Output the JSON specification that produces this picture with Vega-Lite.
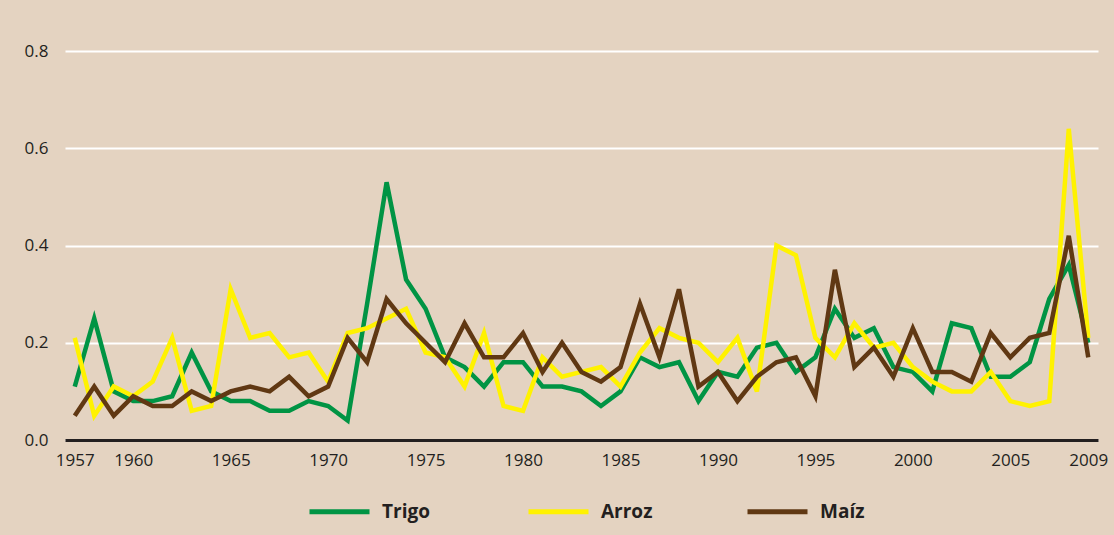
{
  "$schema": "https://vega.github.io/schema/vega-lite/v6.json",
  "width": 1033,
  "height": 389,
  "autosize": "none",
  "padding": {"left": 65, "top": 51, "right": 16, "bottom": 95},
  "background": "#e4d3c1",
  "config": {
    "view": {"stroke": null},
    "font": "Open Sans",
    "axis": {"labelColor": "#231f20", "labelFontSize": 17, "labelFont": "Open Sans", "ticks": false, "tickSize": 0, "title": null}
  },
  "data": {
    "values": [
      {"year":1957,"cultivo":"Trigo","valor":0.11},{"year":1958,"cultivo":"Trigo","valor":0.25},{"year":1959,"cultivo":"Trigo","valor":0.10},{"year":1960,"cultivo":"Trigo","valor":0.08},{"year":1961,"cultivo":"Trigo","valor":0.08},{"year":1962,"cultivo":"Trigo","valor":0.09},{"year":1963,"cultivo":"Trigo","valor":0.18},{"year":1964,"cultivo":"Trigo","valor":0.10},{"year":1965,"cultivo":"Trigo","valor":0.08},{"year":1966,"cultivo":"Trigo","valor":0.08},{"year":1967,"cultivo":"Trigo","valor":0.06},{"year":1968,"cultivo":"Trigo","valor":0.06},{"year":1969,"cultivo":"Trigo","valor":0.08},{"year":1970,"cultivo":"Trigo","valor":0.07},{"year":1971,"cultivo":"Trigo","valor":0.04},{"year":1972,"cultivo":"Trigo","valor":0.28},{"year":1973,"cultivo":"Trigo","valor":0.53},{"year":1974,"cultivo":"Trigo","valor":0.33},{"year":1975,"cultivo":"Trigo","valor":0.27},{"year":1976,"cultivo":"Trigo","valor":0.17},{"year":1977,"cultivo":"Trigo","valor":0.15},{"year":1978,"cultivo":"Trigo","valor":0.11},{"year":1979,"cultivo":"Trigo","valor":0.16},{"year":1980,"cultivo":"Trigo","valor":0.16},{"year":1981,"cultivo":"Trigo","valor":0.11},{"year":1982,"cultivo":"Trigo","valor":0.11},{"year":1983,"cultivo":"Trigo","valor":0.10},{"year":1984,"cultivo":"Trigo","valor":0.07},{"year":1985,"cultivo":"Trigo","valor":0.10},{"year":1986,"cultivo":"Trigo","valor":0.17},{"year":1987,"cultivo":"Trigo","valor":0.15},{"year":1988,"cultivo":"Trigo","valor":0.16},{"year":1989,"cultivo":"Trigo","valor":0.08},{"year":1990,"cultivo":"Trigo","valor":0.14},{"year":1991,"cultivo":"Trigo","valor":0.13},{"year":1992,"cultivo":"Trigo","valor":0.19},{"year":1993,"cultivo":"Trigo","valor":0.20},{"year":1994,"cultivo":"Trigo","valor":0.14},{"year":1995,"cultivo":"Trigo","valor":0.17},{"year":1996,"cultivo":"Trigo","valor":0.27},{"year":1997,"cultivo":"Trigo","valor":0.21},{"year":1998,"cultivo":"Trigo","valor":0.23},{"year":1999,"cultivo":"Trigo","valor":0.15},{"year":2000,"cultivo":"Trigo","valor":0.14},{"year":2001,"cultivo":"Trigo","valor":0.10},{"year":2002,"cultivo":"Trigo","valor":0.24},{"year":2003,"cultivo":"Trigo","valor":0.23},{"year":2004,"cultivo":"Trigo","valor":0.13},{"year":2005,"cultivo":"Trigo","valor":0.13},{"year":2006,"cultivo":"Trigo","valor":0.16},{"year":2007,"cultivo":"Trigo","valor":0.29},{"year":2008,"cultivo":"Trigo","valor":0.36},{"year":2009,"cultivo":"Trigo","valor":0.20},
      {"year":1957,"cultivo":"Arroz","valor":0.21},{"year":1958,"cultivo":"Arroz","valor":0.05},{"year":1959,"cultivo":"Arroz","valor":0.11},{"year":1960,"cultivo":"Arroz","valor":0.09},{"year":1961,"cultivo":"Arroz","valor":0.12},{"year":1962,"cultivo":"Arroz","valor":0.21},{"year":1963,"cultivo":"Arroz","valor":0.06},{"year":1964,"cultivo":"Arroz","valor":0.07},{"year":1965,"cultivo":"Arroz","valor":0.31},{"year":1966,"cultivo":"Arroz","valor":0.21},{"year":1967,"cultivo":"Arroz","valor":0.22},{"year":1968,"cultivo":"Arroz","valor":0.17},{"year":1969,"cultivo":"Arroz","valor":0.18},{"year":1970,"cultivo":"Arroz","valor":0.12},{"year":1971,"cultivo":"Arroz","valor":0.22},{"year":1972,"cultivo":"Arroz","valor":0.23},{"year":1973,"cultivo":"Arroz","valor":0.25},{"year":1974,"cultivo":"Arroz","valor":0.27},{"year":1975,"cultivo":"Arroz","valor":0.18},{"year":1976,"cultivo":"Arroz","valor":0.17},{"year":1977,"cultivo":"Arroz","valor":0.11},{"year":1978,"cultivo":"Arroz","valor":0.22},{"year":1979,"cultivo":"Arroz","valor":0.07},{"year":1980,"cultivo":"Arroz","valor":0.06},{"year":1981,"cultivo":"Arroz","valor":0.17},{"year":1982,"cultivo":"Arroz","valor":0.13},{"year":1983,"cultivo":"Arroz","valor":0.14},{"year":1984,"cultivo":"Arroz","valor":0.15},{"year":1985,"cultivo":"Arroz","valor":0.11},{"year":1986,"cultivo":"Arroz","valor":0.18},{"year":1987,"cultivo":"Arroz","valor":0.23},{"year":1988,"cultivo":"Arroz","valor":0.21},{"year":1989,"cultivo":"Arroz","valor":0.20},{"year":1990,"cultivo":"Arroz","valor":0.16},{"year":1991,"cultivo":"Arroz","valor":0.21},{"year":1992,"cultivo":"Arroz","valor":0.10},{"year":1993,"cultivo":"Arroz","valor":0.40},{"year":1994,"cultivo":"Arroz","valor":0.38},{"year":1995,"cultivo":"Arroz","valor":0.21},{"year":1996,"cultivo":"Arroz","valor":0.17},{"year":1997,"cultivo":"Arroz","valor":0.24},{"year":1998,"cultivo":"Arroz","valor":0.19},{"year":1999,"cultivo":"Arroz","valor":0.20},{"year":2000,"cultivo":"Arroz","valor":0.15},{"year":2001,"cultivo":"Arroz","valor":0.12},{"year":2002,"cultivo":"Arroz","valor":0.10},{"year":2003,"cultivo":"Arroz","valor":0.10},{"year":2004,"cultivo":"Arroz","valor":0.14},{"year":2005,"cultivo":"Arroz","valor":0.08},{"year":2006,"cultivo":"Arroz","valor":0.07},{"year":2007,"cultivo":"Arroz","valor":0.08},{"year":2008,"cultivo":"Arroz","valor":0.64},{"year":2009,"cultivo":"Arroz","valor":0.21},
      {"year":1957,"cultivo":"Maíz","valor":0.05},{"year":1958,"cultivo":"Maíz","valor":0.11},{"year":1959,"cultivo":"Maíz","valor":0.05},{"year":1960,"cultivo":"Maíz","valor":0.09},{"year":1961,"cultivo":"Maíz","valor":0.07},{"year":1962,"cultivo":"Maíz","valor":0.07},{"year":1963,"cultivo":"Maíz","valor":0.10},{"year":1964,"cultivo":"Maíz","valor":0.08},{"year":1965,"cultivo":"Maíz","valor":0.10},{"year":1966,"cultivo":"Maíz","valor":0.11},{"year":1967,"cultivo":"Maíz","valor":0.10},{"year":1968,"cultivo":"Maíz","valor":0.13},{"year":1969,"cultivo":"Maíz","valor":0.09},{"year":1970,"cultivo":"Maíz","valor":0.11},{"year":1971,"cultivo":"Maíz","valor":0.21},{"year":1972,"cultivo":"Maíz","valor":0.16},{"year":1973,"cultivo":"Maíz","valor":0.29},{"year":1974,"cultivo":"Maíz","valor":0.24},{"year":1975,"cultivo":"Maíz","valor":0.20},{"year":1976,"cultivo":"Maíz","valor":0.16},{"year":1977,"cultivo":"Maíz","valor":0.24},{"year":1978,"cultivo":"Maíz","valor":0.17},{"year":1979,"cultivo":"Maíz","valor":0.17},{"year":1980,"cultivo":"Maíz","valor":0.22},{"year":1981,"cultivo":"Maíz","valor":0.14},{"year":1982,"cultivo":"Maíz","valor":0.20},{"year":1983,"cultivo":"Maíz","valor":0.14},{"year":1984,"cultivo":"Maíz","valor":0.12},{"year":1985,"cultivo":"Maíz","valor":0.15},{"year":1986,"cultivo":"Maíz","valor":0.28},{"year":1987,"cultivo":"Maíz","valor":0.17},{"year":1988,"cultivo":"Maíz","valor":0.31},{"year":1989,"cultivo":"Maíz","valor":0.11},{"year":1990,"cultivo":"Maíz","valor":0.14},{"year":1991,"cultivo":"Maíz","valor":0.08},{"year":1992,"cultivo":"Maíz","valor":0.13},{"year":1993,"cultivo":"Maíz","valor":0.16},{"year":1994,"cultivo":"Maíz","valor":0.17},{"year":1995,"cultivo":"Maíz","valor":0.09},{"year":1996,"cultivo":"Maíz","valor":0.35},{"year":1997,"cultivo":"Maíz","valor":0.15},{"year":1998,"cultivo":"Maíz","valor":0.19},{"year":1999,"cultivo":"Maíz","valor":0.13},{"year":2000,"cultivo":"Maíz","valor":0.23},{"year":2001,"cultivo":"Maíz","valor":0.14},{"year":2002,"cultivo":"Maíz","valor":0.14},{"year":2003,"cultivo":"Maíz","valor":0.12},{"year":2004,"cultivo":"Maíz","valor":0.22},{"year":2005,"cultivo":"Maíz","valor":0.17},{"year":2006,"cultivo":"Maíz","valor":0.21},{"year":2007,"cultivo":"Maíz","valor":0.22},{"year":2008,"cultivo":"Maíz","valor":0.42},{"year":2009,"cultivo":"Maíz","valor":0.17}
    ]
  },
  "mark": {"type": "line", "strokeWidth": 4.5, "clip": false},
  "encoding": {
    "x": {
      "field": "year", "type": "quantitative",
      "scale": {"domain": [1956.5, 2009.5], "nice": false, "zero": false},
      "axis": {"values": [1957,1960,1965,1970,1975,1980,1985,1990,1995,2000,2005,2009], "format": "d", "grid": false, "domain": true, "domainColor": "#231f20", "domainWidth": 3, "labelPadding": 12, "labelFlush": false, "zindex": 1}
    },
    "y": {
      "field": "valor", "type": "quantitative",
      "scale": {"domain": [0, 0.8], "nice": false},
      "axis": {"values": [0, 0.2, 0.4, 0.6, 0.8], "format": ".1f", "grid": true, "gridColor": "#ffffff", "gridWidth": 2, "gridOpacity": 1, "domain": false, "labelPadding": 17}
    },
    "color": {
      "field": "cultivo", "type": "nominal",
      "scale": {"domain": ["Trigo", "Arroz", "Maíz"], "range": ["#009444", "#fff200", "#603813"]},
      "legend": {
        "title": null, "orient": "none", "direction": "horizontal", "legendX": 242, "legendY": 428,
        "symbolType": "stroke", "symbolSize": 3600, "symbolStrokeWidth": 5,
        "labelFontSize": 19, "labelFontWeight": "bold", "labelColor": "#231f20", "labelFont": "Open Sans",
        "labelOffset": 10, "gridAlign": "all", "columnPadding": 84
      }
    }
  }
}
